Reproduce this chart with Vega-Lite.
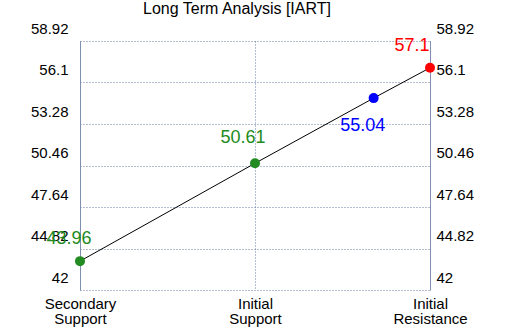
{
  "$schema": "https://vega.github.io/schema/vega-lite/v6.json",
  "width": 350,
  "height": 249,
  "autosize": "none",
  "padding": {"left": 80, "top": 41, "right": 80, "bottom": 40},
  "background": "white",
  "title": {"text": "Long Term Analysis [IART]", "font": "Liberation Sans", "fontSize": 16, "fontWeight": "normal", "color": "black", "anchor": "middle", "frame": "group", "dx": -18, "offset": 4},
  "config": {"view": {"stroke": null}, "font": "Liberation Sans"},
  "data": {"values": [
    {"name": "Secondary Support", "pos": 0, "value": 43.96},
    {"name": "Initial Support", "pos": 1, "value": 50.61},
    {"name": "Current", "pos": 1.678, "value": 55.04},
    {"name": "Initial Resistance", "pos": 2, "value": 57.1}
  ]},
  "encoding": {
    "x": {"field": "pos", "type": "quantitative", "scale": {"domain": [0, 2], "nice": false, "zero": false},
      "axis": {"title": null, "values": [0, 1, 2], "domain": false, "ticks": false, "grid": true, "gridColor": "#6b7ca0", "gridDash": [1, 2], "gridOpacity": 1,
        "labelExpr": "datum.value == 0 ? ['Secondary', 'Support'] : datum.value == 1 ? ['Initial', 'Support'] : ['Initial', 'Resistance']",
        "labelFont": "Liberation Sans", "labelFontSize": 15, "labelColor": "black", "labelLineHeight": 15, "labelPadding": 6, "labelAlign": "center", "labelFlush": false}}
  },
  "layer": [
    {"mark": {"type": "line", "color": "black", "strokeWidth": 1},
      "encoding": {"order": {"field": "pos"},
        "y": {"field": "value", "type": "quantitative", "scale": {"domain": [42, 58.92], "nice": false, "zero": false},
          "axis": {"orient": "left", "title": null, "values": [42, 44.82, 47.64, 50.46, 53.28, 56.1, 58.92], "format": ".2~f", "domain": true, "domainColor": "#7f8fb0", "ticks": false, "grid": true, "gridColor": "#6b7ca0", "gridDash": [1, 2], "gridOpacity": 1, "labelFont": "Liberation Sans", "labelFontSize": 15, "labelColor": "black", "labelPadding": 12, "labelOffset": -13, "labelFlush": false}}}},
    {"mark": {"type": "point", "filled": true, "opacity": 1, "size": 100},
      "encoding": {
        "y": {"field": "value", "type": "quantitative", "scale": {"domain": [42, 58.92], "nice": false, "zero": false},
          "axis": {"orient": "right", "title": null, "values": [42, 44.82, 47.64, 50.46, 53.28, 56.1, 58.92], "format": ".2~f", "domain": true, "domainColor": "#7f8fb0", "ticks": false, "grid": false, "labelFont": "Liberation Sans", "labelFontSize": 15, "labelColor": "black", "labelPadding": 6, "labelOffset": -13, "labelFlush": false}},
        "color": {"field": "name", "type": "nominal", "legend": null, "scale": {"domain": ["Secondary Support", "Initial Support", "Current", "Initial Resistance"], "range": ["#228b22", "#228b22", "#0000ff", "#ff0000"]}}}},
    {"transform": [{"filter": "datum.name == 'Secondary Support'"}],
      "mark": {"type": "text", "font": "Liberation Sans", "fontSize": 18, "color": "#228b22", "dx": -11, "dy": -22},
      "encoding": {"y": {"field": "value", "type": "quantitative", "axis": null}, "text": {"field": "value", "type": "quantitative", "format": ".2~f"}}},
    {"transform": [{"filter": "datum.name == 'Initial Support'"}],
      "mark": {"type": "text", "font": "Liberation Sans", "fontSize": 18, "color": "#228b22", "dx": -12, "dy": -25},
      "encoding": {"y": {"field": "value", "type": "quantitative", "axis": null}, "text": {"field": "value", "type": "quantitative", "format": ".2~f"}}},
    {"transform": [{"filter": "datum.name == 'Current'"}],
      "mark": {"type": "text", "font": "Liberation Sans", "fontSize": 18, "color": "#0000ff", "dx": -11, "dy": 28},
      "encoding": {"y": {"field": "value", "type": "quantitative", "axis": null}, "text": {"field": "value", "type": "quantitative", "format": ".2~f"}}},
    {"transform": [{"filter": "datum.name == 'Initial Resistance'"}],
      "mark": {"type": "text", "font": "Liberation Sans", "fontSize": 18, "color": "#ff0000", "dx": -18, "dy": -22},
      "encoding": {"y": {"field": "value", "type": "quantitative", "axis": null}, "text": {"field": "value", "type": "quantitative", "format": ".2~f"}}}
  ],
  "resolve": {"axis": {"y": "independent"}}
}
